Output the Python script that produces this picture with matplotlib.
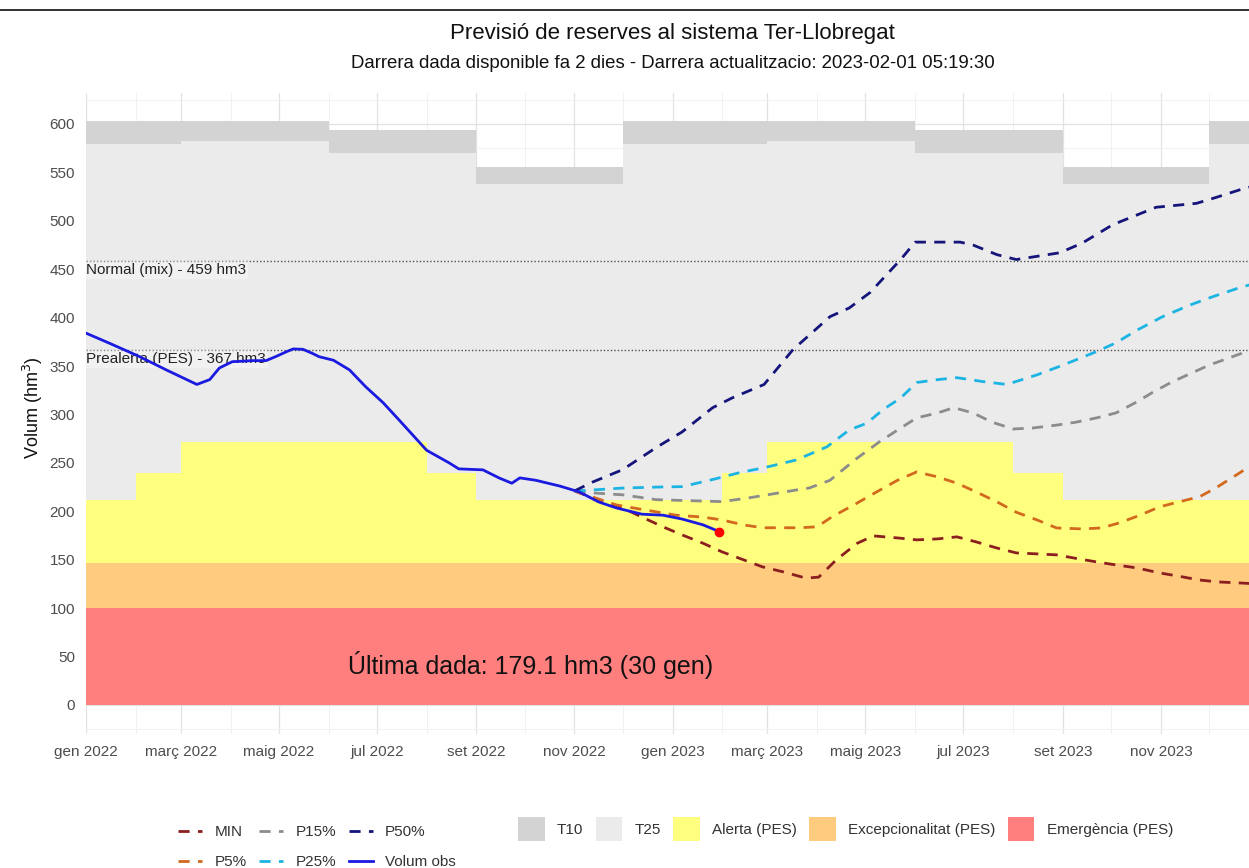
import pandas as pd
import matplotlib.pyplot as plt
from matplotlib.lines import Line2D
from matplotlib.patches import Patch
from matplotlib.ticker import MultipleLocator
import matplotlib.dates as mdates

plt.rcParams['font.family'] = ['Liberation Sans', 'DejaVu Sans']

# --- llindars mensuals (gen 2022 .. des 2023 + vora final) ---
month_edges = pd.date_range('2022-01-01', '2024-01-01', freq='MS')
alerta_top = [212, 240, 272, 272, 272, 272, 272, 240, 212, 212, 212, 212,
              212, 240, 272, 272, 272, 272, 272, 240, 212, 212, 212, 212, 212]
t25_top = [579, 579, 582, 582, 582, 570, 570, 570, 538, 538, 538, 579,
           579, 579, 582, 582, 582, 570, 570, 570, 538, 538, 538, 579, 579]
t10_top = [603, 603, 603, 603, 603, 594, 594, 594, 556, 556, 556, 603,
           603, 603, 603, 603, 603, 594, 594, 594, 556, 556, 556, 603, 603]
excep_top = 147
emerg_top = 100

normal_level = 459
prealerta_level = 367

# --- volum observat ---
obs_dates = ['2022-01-01', '2022-01-15', '2022-02-03', '2022-02-20', '2022-03-11',
             '2022-03-19', '2022-03-25', '2022-04-02', '2022-04-15', '2022-04-23',
             '2022-04-29', '2022-05-06', '2022-05-10', '2022-05-16', '2022-05-22',
             '2022-05-26', '2022-06-04', '2022-06-14', '2022-06-24', '2022-07-05',
             '2022-07-15', '2022-08-01', '2022-08-15', '2022-08-21', '2022-09-05',
             '2022-09-15', '2022-09-23', '2022-09-28', '2022-10-08', '2022-10-23',
             '2022-11-04', '2022-11-16', '2022-11-27', '2022-12-13', '2022-12-26',
             '2023-01-07', '2023-01-20', '2023-01-30']
obs_vals = [384, 374, 360, 346, 331,
            336, 348, 354.5, 355.6, 355.6,
            359.7, 365, 367.7, 367.3, 363,
            359.7, 356, 346, 328.7, 312,
            294, 263, 250, 243.8, 242.8,
            234.5, 229, 234.5, 232, 226,
            220, 209.7, 203.5, 197, 196,
            192, 186, 179.1]

# --- previsions ---
p50_dates = ['2022-11-01', '2022-11-12', '2022-12-01', '2022-12-22', '2023-01-07',
             '2023-01-26', '2023-02-07', '2023-02-27', '2023-03-17', '2023-04-09',
             '2023-04-21', '2023-05-04', '2023-05-23', '2023-06-01', '2023-06-29',
             '2023-07-07', '2023-07-22', '2023-08-03', '2023-08-30', '2023-09-13',
             '2023-10-02', '2023-10-14', '2023-10-29', '2023-11-23', '2023-12-05',
             '2023-12-20', '2023-12-31']
p50_vals = [221, 230, 243, 266, 282,
            307, 317, 331, 367, 401,
            410, 426, 460, 478, 478,
            475, 465, 460, 467, 477,
            496, 504, 514, 518, 524,
            532, 537]

p25_dates = ['2022-11-01', '2022-11-12', '2022-12-01', '2022-12-22', '2023-01-07',
             '2023-01-24', '2023-02-12', '2023-02-27', '2023-03-19', '2023-04-07',
             '2023-04-21', '2023-05-02', '2023-05-12', '2023-05-23', '2023-06-02',
             '2023-06-15', '2023-06-27', '2023-07-13', '2023-07-28', '2023-08-16',
             '2023-09-01', '2023-09-22', '2023-10-04', '2023-10-17', '2023-11-02',
             '2023-11-19', '2023-12-03', '2023-12-20', '2023-12-31']
p25_vals = [221, 222, 224, 225, 225.5,
            232, 240, 245, 253, 266.5,
            284, 291, 305, 317, 333,
            336, 338, 334, 331, 341,
            351, 365, 374, 387, 401,
            413, 421.5, 431, 436]

p15_dates = ['2022-11-01', '2022-11-12', '2022-12-01', '2022-12-22', '2023-01-11',
             '2023-02-01', '2023-02-18', '2023-03-01', '2023-03-19', '2023-03-27',
             '2023-04-09', '2023-04-26', '2023-05-10', '2023-05-23', '2023-06-02',
             '2023-06-15', '2023-06-25', '2023-07-07', '2023-07-19', '2023-08-01',
             '2023-08-13', '2023-08-28', '2023-09-09', '2023-09-22', '2023-10-04',
             '2023-10-17', '2023-10-27', '2023-11-08', '2023-12-01', '2023-12-22',
             '2023-12-31']
p15_vals = [221, 219, 217, 212, 211,
            210, 214, 217, 222, 224,
            232, 255, 272, 286, 296.5,
            301.6, 307, 301.6, 292, 285,
            286, 289, 292, 296.5, 301.6,
            313, 323, 333.7, 351, 363.6,
            368]

p5_dates = ['2022-11-01', '2022-11-27', '2022-12-11', '2023-01-03', '2023-01-20',
            '2023-02-01', '2023-02-14', '2023-02-26', '2023-03-21', '2023-04-01',
            '2023-04-10', '2023-04-26', '2023-05-08', '2023-05-21', '2023-06-02',
            '2023-06-15', '2023-06-27', '2023-07-09', '2023-07-22', '2023-08-03',
            '2023-08-16', '2023-08-28', '2023-09-13', '2023-09-25', '2023-10-06',
            '2023-10-19', '2023-10-31', '2023-11-12', '2023-11-25', '2023-12-05',
            '2023-12-20', '2023-12-31']
p5_vals = [221, 206.6, 202.5, 196, 194,
           191, 186, 183, 183, 184,
           194, 208.6, 220, 232, 240.7,
           235.5, 229, 220, 209.7, 199,
           191, 182.8, 181.8, 182.8, 188,
           196, 204.5, 209.7, 215, 224,
           239.7, 252]

min_dates = ['2022-11-01', '2022-11-25', '2022-12-01', '2022-12-13', '2022-12-26',
             '2023-01-07', '2023-01-20', '2023-02-01', '2023-02-14', '2023-02-26',
             '2023-03-11', '2023-03-25', '2023-04-02', '2023-04-13', '2023-04-26',
             '2023-05-06', '2023-05-21', '2023-06-02', '2023-06-15', '2023-06-27',
             '2023-07-09', '2023-07-22', '2023-08-03', '2023-08-16', '2023-08-28',
             '2023-09-11', '2023-09-22', '2023-10-04', '2023-10-17', '2023-10-31',
             '2023-11-12', '2023-11-25', '2023-12-07', '2023-12-20', '2023-12-31']
min_vals = [221, 206, 203.5, 194, 184,
            175.6, 167, 158, 150, 142.6,
            137.4, 131, 132, 150, 167,
            174.6, 172.5, 170.5, 171.5, 173.6,
            168.4, 162, 157, 156, 155,
            150.8, 147.7, 144.6, 141.5, 136.4,
            133, 129, 127, 126, 125]

tick_dates = ['2022-01-01', '2022-03-01', '2022-05-01', '2022-07-01', '2022-09-01', '2022-11-01',
              '2023-01-01', '2023-03-01', '2023-05-01', '2023-07-01', '2023-09-01', '2023-11-01']
tick_labels = ['gen 2022', 'març 2022', 'maig 2022', 'jul 2022', 'set 2022', 'nov 2022',
               'gen 2023', 'març 2023', 'maig 2023', 'jul 2023', 'set 2023', 'nov 2023']

last_date = '2023-01-30'
last_val = 179.1

COL = {
    'T10': '#D3D3D3', 'T25': '#EBEBEB', 'alerta': '#FFFF7F',
    'excep': '#FFCB7F', 'emerg': '#FF7F7F',
    'MIN': '#8B1F1F', 'P5': '#D2691E', 'P15': '#8C8C8C',
    'P25': '#1CB4E3', 'P50': '#14147A', 'obs': '#1A1AE0',
}

W, H = 1249, 868
fig = plt.figure(figsize=(W / 100, H / 100), dpi=100)
# el panell continua fins a gen 2024, fora de la imatge (retallada)
ax = fig.add_axes([86 / W, (H - 734) / H, (1259 - 86) / W, (734 - 93) / H])

edges = pd.to_datetime(month_edges)
ax.fill_between(edges, 0, emerg_top, step='post', color=COL['emerg'], lw=0)
ax.fill_between(edges, emerg_top, excep_top, step='post', color=COL['excep'], lw=0)
ax.fill_between(edges, excep_top, alerta_top, step='post', color=COL['alerta'], lw=0)
ax.fill_between(edges, alerta_top, t25_top, step='post', color=COL['T25'], lw=0)
ax.fill_between(edges, t25_top, t10_top, step='post', color=COL['T10'], lw=0)

for lvl in (normal_level, prealerta_level):
    ax.axhline(lvl, color='#505050', lw=1.0, ls=(0, (1, 1.5)), zorder=2)

lbl_box = dict(facecolor='white', alpha=0.35, edgecolor='none', pad=1.5)
ax.text(pd.Timestamp('2022-01-01'), normal_level - 2.5, 'Normal (mix) - 459 hm3',
        ha='left', va='top', fontsize=11, color='#222222', bbox=lbl_box, zorder=3)
ax.text(pd.Timestamp('2022-01-01'), prealerta_level - 2.5, 'Prealerta (PES) - 367 hm3',
        ha='left', va='top', fontsize=11, color='#222222', bbox=lbl_box, zorder=3)

dash = (0, (4, 3))
series = [
    ('MIN', min_dates, min_vals),
    ('P5', p5_dates, p5_vals),
    ('P15', p15_dates, p15_vals),
    ('P25', p25_dates, p25_vals),
    ('P50', p50_dates, p50_vals),
]
for key, d, v in series:
    ax.plot(pd.to_datetime(d), v, color=COL[key], lw=2.0, ls=dash, zorder=4)

ax.plot(pd.to_datetime(obs_dates), obs_vals, color=COL['obs'], lw=2.0, zorder=5)
ax.plot(pd.Timestamp(last_date), last_val, 'o', color='#FF0000', ms=6, zorder=6)

ax.text(pd.Timestamp('2022-06-13'), 41, f'Última dada: {last_val} hm3 (30 gen)',
        ha='left', va='center', fontsize=18, color='#111111', zorder=6)

ax.set_xlim(pd.Timestamp('2022-01-01'), pd.Timestamp('2024-01-01'))
ax.set_ylim(-30, 632)
ax.set_yticks(range(0, 601, 50))
ax.yaxis.set_minor_locator(MultipleLocator(25))
ax.set_xticks(pd.to_datetime(tick_dates))
ax.set_xticklabels(tick_labels)
ax.xaxis.set_minor_locator(mdates.MonthLocator())
ax.tick_params(which='both', length=0)
ax.tick_params(axis='both', labelsize=11, labelcolor='#4D4D4D')
ax.tick_params(axis='x', pad=8)
ax.tick_params(axis='y', pad=8)
ax.set_axisbelow(True)
ax.grid(which='major', color='#E2E2E2', lw=0.9)
ax.grid(which='minor', color='#EFEFEF', lw=0.6)
for s in ax.spines.values():
    s.set_visible(False)

xc = (86 + 1259) / 2 / W
fig.text(xc, 1 - 33 / H, 'Previsió de reserves al sistema Ter-Llobregat',
         ha='center', va='center', fontsize=16, color='#111111')
fig.text(xc, 1 - 63 / H, 'Darrera dada disponible fa 2 dies - Darrera actualitzacio: 2023-02-01 05:19:30',
         ha='center', va='center', fontsize=13.4, color='#111111')
fig.text(33 / W, 1 - 408 / H, 'Volum (hm$^3$)', rotation=90,
         ha='center', va='center', fontsize=13, color='#111111')

fig.add_artist(Line2D([0, 1], [1 - 10 / H, 1 - 10 / H], transform=fig.transFigure,
                      color='#222222', lw=1.3))

# --- llegendes ---
line_handles = [
    Line2D([], [], color=COL['MIN'], lw=2.0, ls=dash, label='MIN'),
    Line2D([], [], color=COL['P5'], lw=2.0, ls=dash, label='P5%'),
    Line2D([], [], color=COL['P15'], lw=2.0, ls=dash, label='P15%'),
    Line2D([], [], color=COL['P25'], lw=2.0, ls=dash, label='P25%'),
    Line2D([], [], color=COL['P50'], lw=2.0, ls=dash, label='P50%'),
    Line2D([], [], color=COL['obs'], lw=2.0, label='Volum obs'),
]
leg1 = fig.legend(handles=line_handles, loc='upper left', bbox_to_anchor=(178 / W, 1 - 825 / H),
                  ncol=3, frameon=False, fontsize=11, handlelength=1.6, handletextpad=0.8,
                  columnspacing=0.8, labelspacing=1.05, borderpad=0, borderaxespad=0)
for t in leg1.get_texts():
    t.set_color('#333333')

fill_handles = [
    Patch(facecolor=COL['T10'], label='T10'),
    Patch(facecolor=COL['T25'], label='T25'),
    Patch(facecolor=COL['alerta'], label='Alerta (PES)'),
    Patch(facecolor=COL['excep'], label='Excepcionalitat (PES)'),
    Patch(facecolor=COL['emerg'], label='Emergència (PES)'),
]
leg2 = fig.legend(handles=fill_handles, loc='upper left', bbox_to_anchor=(518 / W, 1 - 817 / H),
                  ncol=5, frameon=False, fontsize=11, handlelength=1.75, handleheight=2.0,
                  handletextpad=0.8, columnspacing=0.8, borderpad=0, borderaxespad=0)
for t in leg2.get_texts():
    t.set_color('#333333')

fig.savefig('out.png', dpi=100)
